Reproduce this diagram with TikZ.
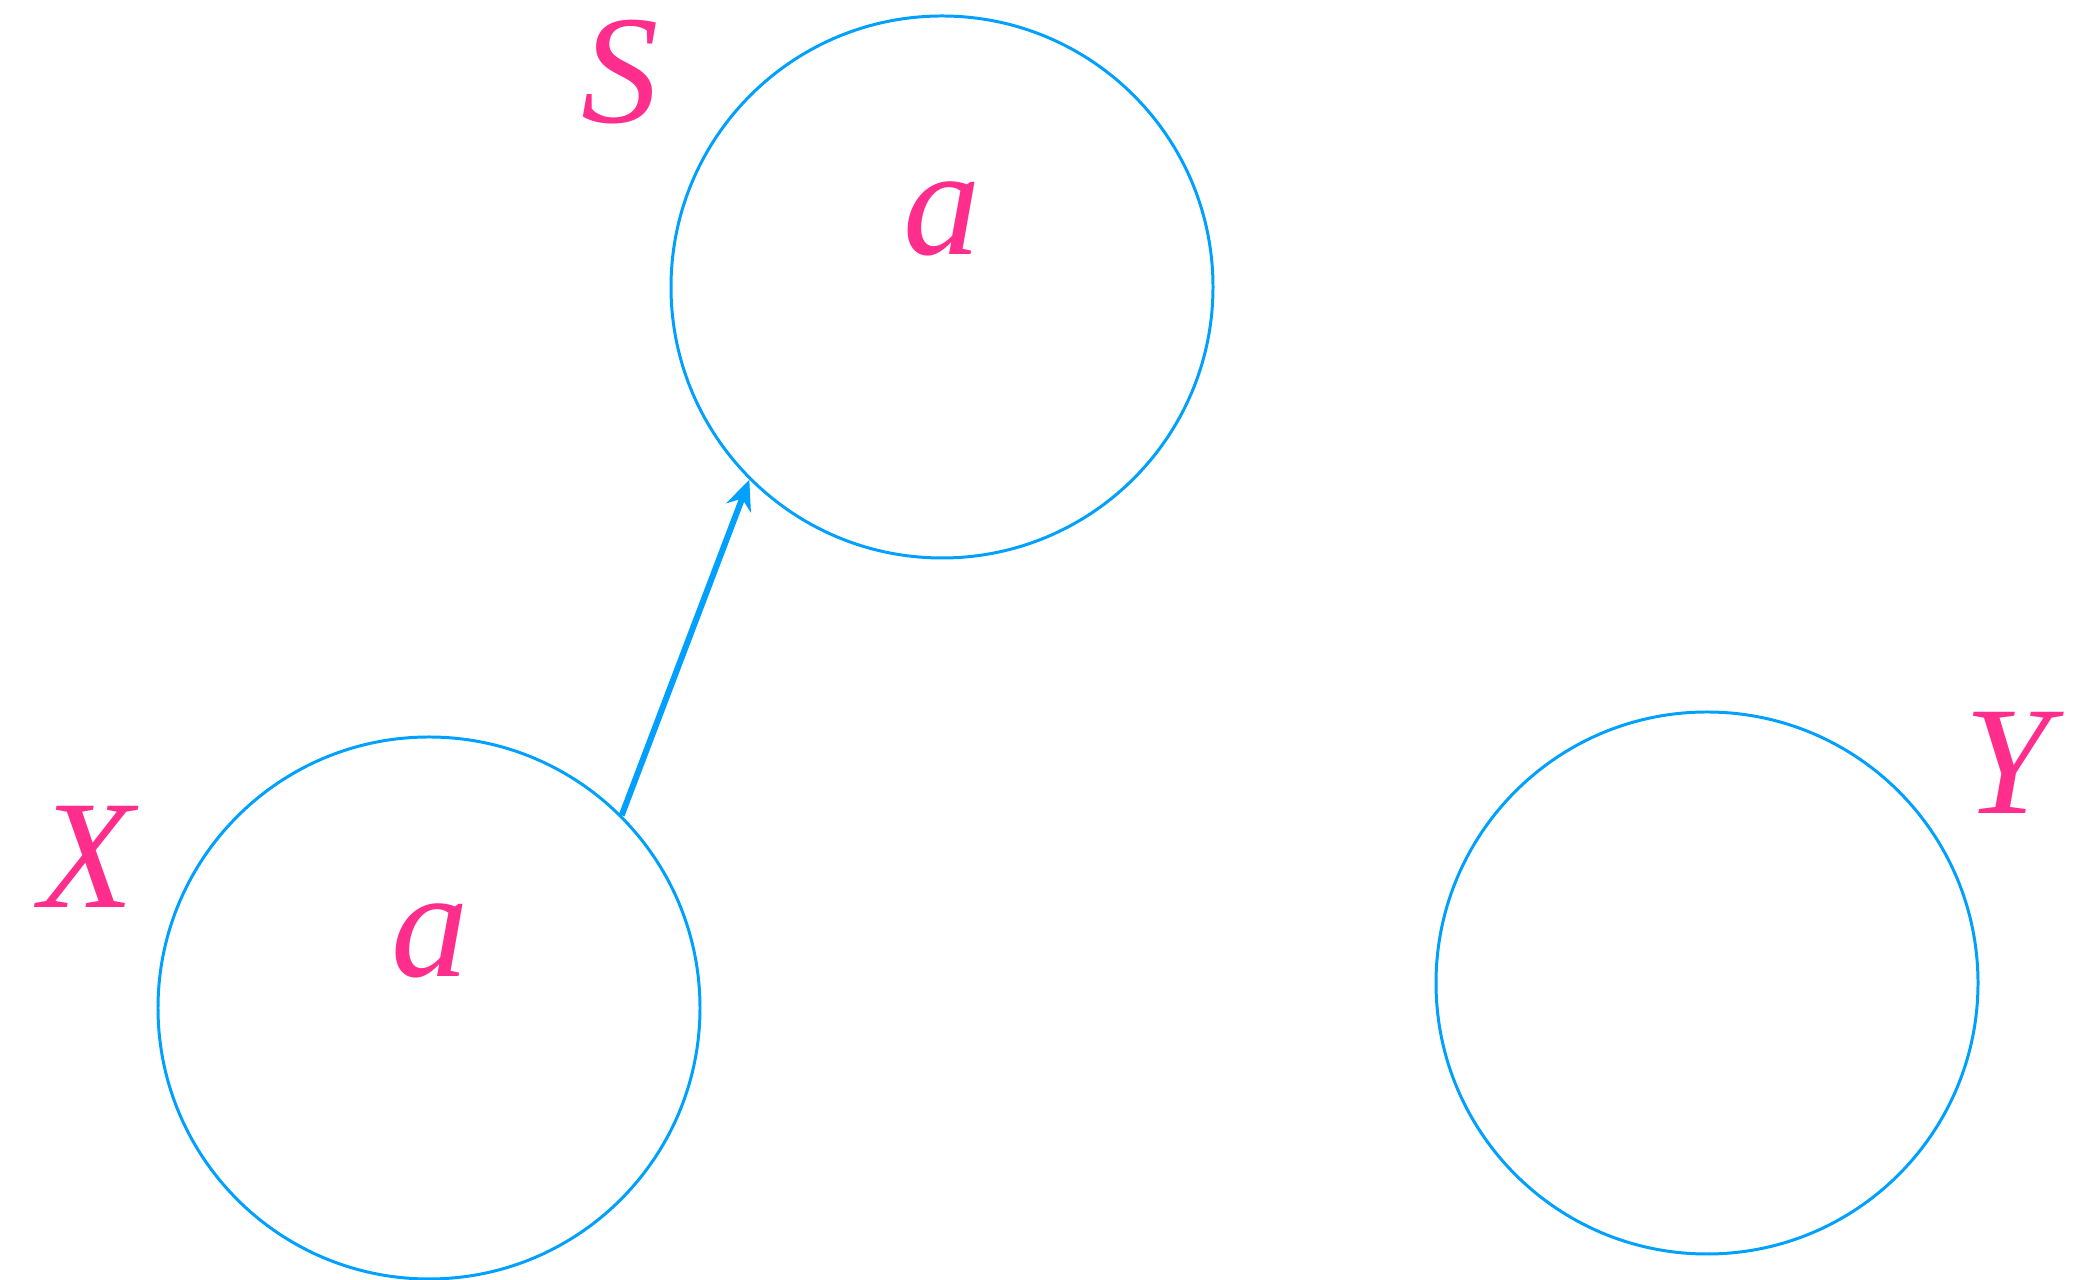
\documentclass[tikz,border=0pt]{standalone}
\usepackage{fontspec}
\setmainfont{Liberation Serif}
\usepackage{xcolor}
\usepackage{tikz}
\usetikzlibrary{arrows.meta,positioning}
\definecolor{setblue}{RGB}{0,160,255}
\definecolor{lblpink}{RGB}{255,45,140}
\tikzset{
  setc/.style ={draw=setblue,circle,line width=0.85pt,minimum size=5.42cm,inner sep=0pt},
  nm/.style   ={text=lblpink,font=\fontsize{44}{52}\selectfont\itshape,inner sep=0pt},
  flow/.style ={-{Stealth[length=3mm,width=2.6mm]},line width=1.7pt,draw=setblue},
}
\begin{document}
\begin{tikzpicture}
  \useasboundingbox (0,0) rectangle (20.75,-12.80);
  \node[setc] (S) at (9.42,-2.87) {};
  \node[setc] (X) at (4.29,-10.08) {};
  \node[setc] (Y) at (17.07,-9.83) {};
  \node[nm] (sl) at (6.20,-0.72) {S};
  \node[nm] (xl) at (0.87,-8.57) {X};
  \node[nm] (yl) at (20.07,-7.63) {Y};
  \node[nm] (a1) at (9.42,-2.19) {a};
  \node[nm] (a2) at (4.30,-9.41) {a};
  \draw[flow] (X.north east) -- (S.south west);
\end{tikzpicture}
\end{document}
